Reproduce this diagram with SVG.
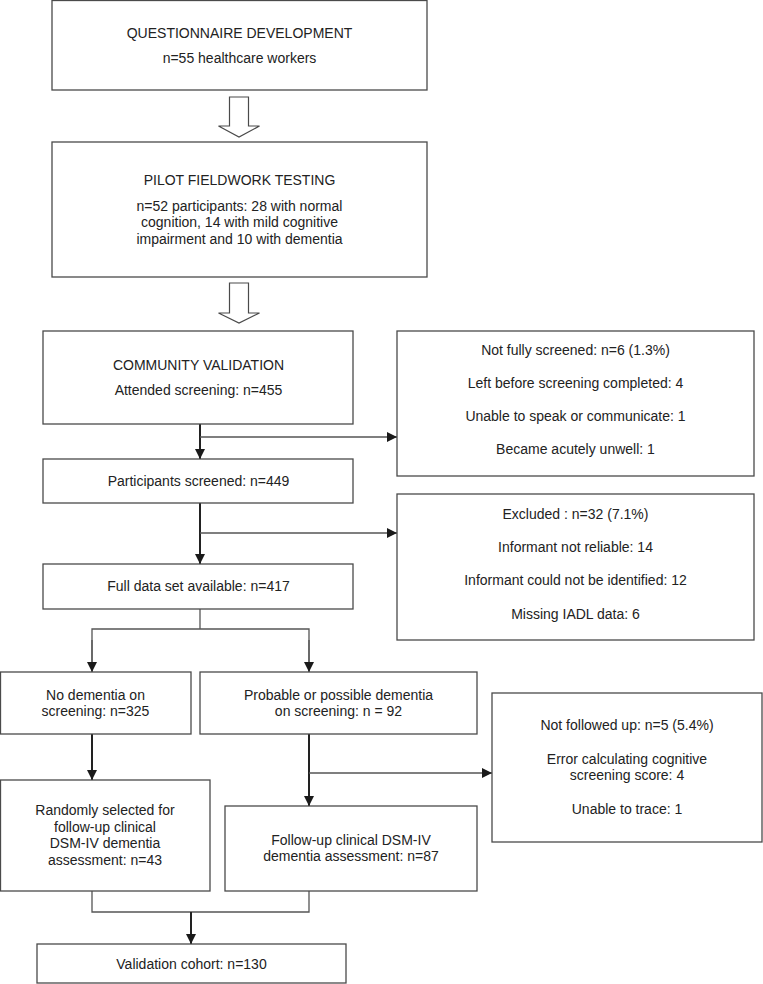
<svg xmlns="http://www.w3.org/2000/svg" width="763" height="984" viewBox="0 0 763 984">
<style>
.box{fill:#fff;stroke:#4a4a4a;stroke-width:1.3}
.t{font-family:"Liberation Sans",Arial,sans-serif;font-size:14px;fill:#222;text-anchor:middle}
.main{fill:none;stroke:#222;stroke-width:2}
.thin{fill:none;stroke:#555;stroke-width:1.3}
.hollow{fill:#fff;stroke:#4a4a4a;stroke-width:1.2}
</style>
<defs>
<marker id="ah" viewBox="0 0 10 10" refX="10" refY="5" markerWidth="10" markerHeight="10" markerUnits="userSpaceOnUse" orient="auto">
<path d="M0,0 L10,5 L0,10 z" fill="#1a1a1a"/>
</marker>
</defs>
<rect width="763" height="984" fill="#fff"/>

<g id="connectors">
<polygon class="hollow" points="229.5,97 248.5,97 248.5,126 259.5,126 239,137 218.5,126 229.5,126"/>
<polygon class="hollow" points="229.5,283 248.5,283 248.5,313 259.5,313 239,323 218.5,313 229.5,313"/>
<line class="main" x1="200" y1="424" x2="200" y2="459" marker-end="url(#ah)"/>
<line class="thin" x1="200" y1="437" x2="397" y2="437" marker-end="url(#ah)"/>
<line class="main" x1="200" y1="503" x2="200" y2="564" marker-end="url(#ah)"/>
<line class="thin" x1="200" y1="533" x2="397" y2="533" marker-end="url(#ah)"/>
<polyline class="thin" points="200,609 200,629"/>
<polyline class="thin" points="92,672 92,629 309,629 309,672"/>
<line class="thin" x1="92" y1="640" x2="92" y2="672" marker-end="url(#ah)"/>
<line class="thin" x1="309" y1="640" x2="309" y2="672" marker-end="url(#ah)"/>
<line class="main" x1="92" y1="734" x2="92" y2="780" stroke-width="1.6" marker-end="url(#ah)"/>
<line class="main" x1="309" y1="734" x2="309" y2="806" marker-end="url(#ah)"/>
<line class="thin" x1="309" y1="773" x2="492" y2="773" marker-end="url(#ah)"/>
<polyline class="thin" points="92,891 92,912 309,912 309,891"/>
<line class="main" x1="191" y1="912" x2="191" y2="944" stroke-width="1.6" marker-end="url(#ah)"/>
</g>

<g id="n1">
<rect class="box" x="52" y="0.5" width="375" height="89.5"/>
<text class="t" x="239.5" y="38">QUESTIONNAIRE DEVELOPMENT</text>
<text class="t" x="239.5" y="63">n=55 healthcare workers</text>
</g>

<g id="n2">
<rect class="box" x="52" y="142" width="375" height="135"/>
<text class="t" x="239.5" y="185">PILOT FIELDWORK TESTING</text>
<text class="t" x="239.5" y="210.5">n=52 participants: 28 with normal</text>
<text class="t" x="239.5" y="227">cognition, 14 with mild cognitive</text>
<text class="t" x="239.5" y="243.5">impairment and 10 with dementia</text>
</g>

<g id="n3">
<rect class="box" x="43" y="331" width="310" height="93"/>
<text class="t" x="198.5" y="369.5">COMMUNITY VALIDATION</text>
<text class="t" x="198.5" y="395">Attended screening: n=455</text>
</g>

<g id="n4">
<rect class="box" x="43" y="459" width="310" height="44"/>
<text class="t" x="198.5" y="486">Participants screened: n=449</text>
</g>

<g id="n5">
<rect class="box" x="43" y="564" width="310" height="45"/>
<text class="t" x="198.5" y="591">Full data set available: n=417</text>
</g>

<g id="r1">
<rect class="box" x="397" y="331" width="357" height="145"/>
<text class="t" x="575.5" y="355">Not fully screened: n=6 (1.3%)</text>
<text class="t" x="575.5" y="388">Left before screening completed: 4</text>
<text class="t" x="575.5" y="421">Unable to speak or communicate: 1</text>
<text class="t" x="575.5" y="454">Became acutely unwell: 1</text>
</g>

<g id="r2">
<rect class="box" x="397" y="494" width="357" height="146"/>
<text class="t" x="575.5" y="519">Excluded : n=32 (7.1%)</text>
<text class="t" x="575.5" y="552">Informant not reliable: 14</text>
<text class="t" x="575.5" y="585">Informant could not be identified: 12</text>
<text class="t" x="575.5" y="619">Missing IADL data: 6</text>
</g>

<g id="n6">
<rect class="box" x="0.5" y="672" width="190.5" height="62"/>
<text class="t" x="95.5" y="699.5">No dementia on</text>
<text class="t" x="95.5" y="716">screening: n=325</text>
</g>

<g id="n7">
<rect class="box" x="200" y="672" width="277" height="62"/>
<text class="t" x="338.5" y="699.5">Probable or possible dementia</text>
<text class="t" x="338.5" y="716">on screening: n = 92</text>
</g>

<g id="n8">
<rect class="box" x="0.5" y="780" width="209.5" height="111"/>
<text class="t" x="105" y="815">Randomly selected for</text>
<text class="t" x="105" y="831.5">follow-up clinical</text>
<text class="t" x="105" y="848">DSM-IV dementia</text>
<text class="t" x="105" y="865">assessment: n=43</text>
</g>

<g id="n9">
<rect class="box" x="225" y="806" width="252" height="85"/>
<text class="t" x="351" y="845">Follow-up clinical DSM-IV</text>
<text class="t" x="351" y="861">dementia assessment: n=87</text>
</g>

<g id="r3">
<rect class="box" x="492" y="693" width="270" height="149"/>
<text class="t" x="627" y="730">Not followed up: n=5 (5.4%)</text>
<text class="t" x="627" y="763.5">Error calculating cognitive</text>
<text class="t" x="627" y="780">screening score: 4</text>
<text class="t" x="627" y="813.5">Unable to trace: 1</text>
</g>

<g id="n10">
<rect class="box" x="37" y="944" width="309" height="39"/>
<text class="t" x="191.5" y="968.5">Validation cohort: n=130</text>
</g>
</svg>
